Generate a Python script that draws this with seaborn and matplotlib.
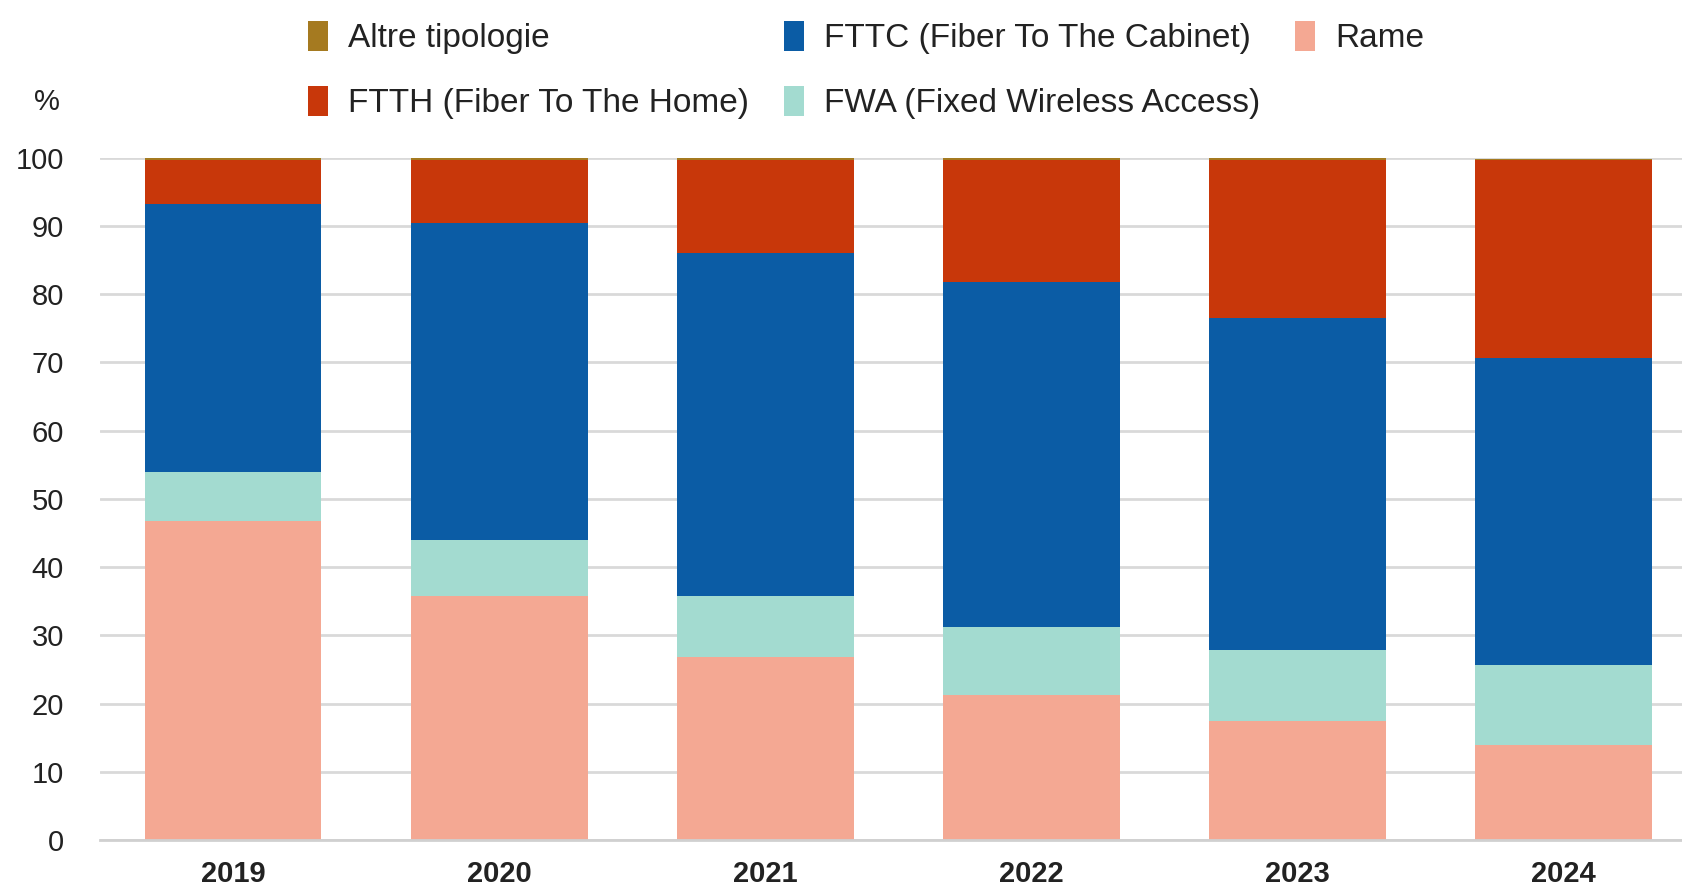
import numpy as np
import pandas as pd
import matplotlib
matplotlib.use('Agg')
import matplotlib.pyplot as plt
from matplotlib.patches import Patch
import seaborn as sns

years = ['2019', '2020', '2021', '2022', '2023', '2024']
rame = [46.8, 35.7, 26.9, 21.3, 17.5, 13.9]
fwa = [7.1, 8.2, 8.8, 9.9, 10.4, 11.8]
fttc = [39.3, 46.5, 50.3, 50.5, 48.6, 44.9]
ftth = [6.5, 9.3, 13.7, 18.0, 23.2, 29.0]
altre = [0.3, 0.3, 0.3, 0.3, 0.3, 0.2]

series = ['Rame', 'FWA (Fixed Wireless Access)', 'FTTC (Fiber To The Cabinet)',
          'FTTH (Fiber To The Home)', 'Altre tipologie']
colors = {'Altre tipologie': '#A57A20', 'FTTH (Fiber To The Home)': '#C8370A',
          'FTTC (Fiber To The Cabinet)': '#0B5CA5', 'FWA (Fixed Wireless Access)': '#A3DBD0',
          'Rame': '#F4A893'}

sns.set_style('white')
plt.rcParams['font.family'] = ['Liberation Sans Narrow', 'Liberation Sans', 'DejaVu Sans']

df = pd.DataFrame({'year': years, 'Rame': rame, 'FWA (Fixed Wireless Access)': fwa,
                   'FTTC (Fiber To The Cabinet)': fttc, 'FTTH (Fiber To The Home)': ftth,
                   'Altre tipologie': altre})

fig = plt.figure(figsize=(16.83, 8.9), dpi=100)
ax = fig.add_axes([0.0594, 0.056, 0.9406, 0.767])

# stacked bars: draw cumulative totals from the top layer down
cum = df[series].cumsum(axis=1)
for s in series[::-1]:
    sns.barplot(x=df['year'], y=cum[s], color=colors[s], width=0.665,
                saturation=1, linewidth=0, edgecolor='none', ax=ax, zorder=2)

ax.set_ylim(0, 100)
ax.set_xlim(-0.5, 5.45)
ax.set_yticks(range(0, 101, 10))
ax.yaxis.grid(True, color='#d9d9d9', linewidth=2, zorder=0)
ax.set_axisbelow(True)
for sp in ['top', 'right', 'left']:
    ax.spines[sp].set_visible(False)
ax.spines['bottom'].set_color('#d0d0d0')
ax.spines['bottom'].set_linewidth(2)
ax.spines['bottom'].set_zorder(3)
ax.set_xlabel('')
ax.set_ylabel('')
ax.tick_params(axis='y', labelsize=21, length=0, pad=26, colors='#222222')
ax.tick_params(axis='x', labelsize=21, length=0, pad=14, colors='#222222')
for t in ax.get_xticklabels():
    t.set_fontweight('bold')

fig.text(0.028, 0.885, '%', fontsize=21, color='#222222', ha='center', va='center')

order = ['Altre tipologie', 'FTTH (Fiber To The Home)', 'FTTC (Fiber To The Cabinet)',
         'FWA (Fixed Wireless Access)', 'Rame']
handles = [Patch(facecolor=colors[k], edgecolor='none', label=k) for k in order]
fig.legend(handles=handles, ncol=3, loc='upper left', bbox_to_anchor=(0.165, 1.01),
           frameon=False, fontsize=24, handlelength=0.6, handleheight=1.0,
           handletextpad=0.6, columnspacing=1.05, labelspacing=0.95,
           labelcolor='#222222')

fig.savefig('out.png', dpi=100)
